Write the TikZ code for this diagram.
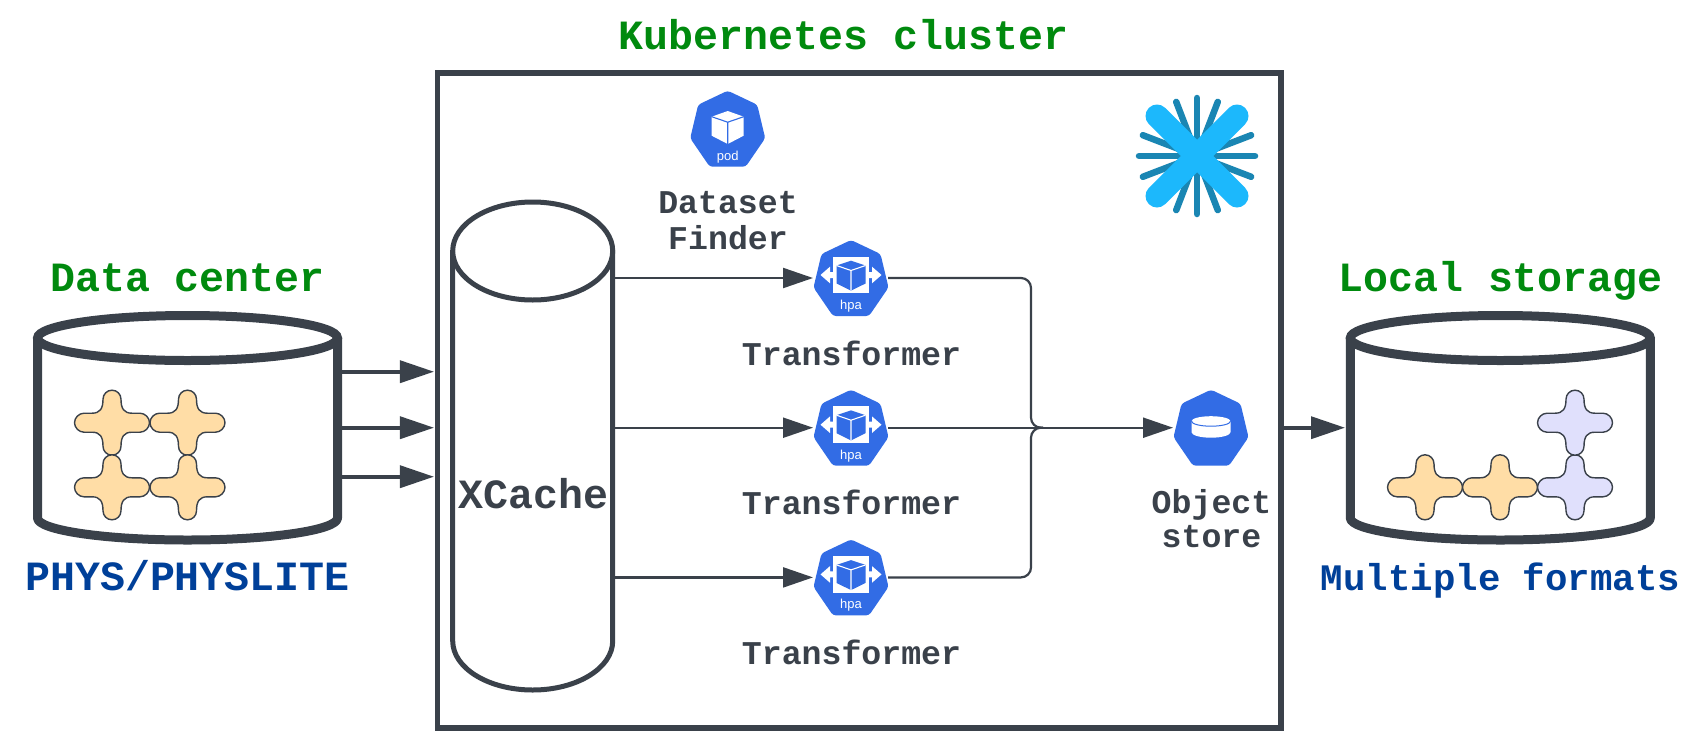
\documentclass[tikz,border=0pt]{standalone}
\usepackage{fontspec}
\setmainfont{Liberation Mono}
\newfontfamily\iconfont{Liberation Sans}
\usetikzlibrary{arrows.meta}
\definecolor{ink}{HTML}{3A414A}
\definecolor{kgreen}{HTML}{008A0E}
\definecolor{kblue}{HTML}{004099}
\definecolor{kube}{HTML}{326CE5}
\definecolor{orangeleaf}{HTML}{FFDDA6}
\definecolor{lavleaf}{HTML}{E0E0FC}
\definecolor{flakelight}{HTML}{1CB8FC}
\definecolor{flakedark}{HTML}{1A86B3}
\tikzset{
  anchorbox/.style={inner sep=0pt,outer sep=0pt,minimum width=#1},
  iconbox/.style={inner sep=0pt,outer sep=0pt,minimum width=74pt,minimum height=74pt},
  bigtext/.style={anchor=base,inner sep=0pt,font=\fontsize{41.6pt}{44pt}\selectfont\bfseries},
  midtext/.style={anchor=base,inner sep=0pt,text=ink,font=\fontsize{33.2pt}{36pt}\selectfont\bfseries},
  thinflow/.style={draw=ink,line width=2.2pt,-{Triangle[length=30pt,width=20pt]}},
  thinbus/.style={draw=ink,line width=2.2pt,rounded corners=10pt},
  thickflow/.style={draw=ink,line width=3.6pt,-{Triangle[length=34pt,width=22pt]}},
  hept/.pic={
    \fill[kube,rounded corners=3pt] (0,-1)--(29.5,13)--(37.5,46.5)--(18,75)--(-18,75)--(-37.5,46.5)--(-29.5,13)--cycle;
  },
  leaf/.pic={
    \path[draw=ink,line width=1.4pt,fill=#1]
      (-9,-23.5) .. controls (-9,-28.5) and (-5,-32.5) .. (0,-32.5)
      .. controls (5,-32.5) and (9,-28.5) .. (9,-23.5)
      .. controls (9,-14) and (12,-9.5) .. (20,-9.5)
      -- (28,-9.5) .. controls (33,-9.5) and (37.5,-5) .. (37.5,0)
      .. controls (37.5,5) and (33,9.5) .. (28,9.5)
      -- (20,9.5) .. controls (12,9.5) and (9,14) .. (9,23.5)
      .. controls (9,28.5) and (5,32.5) .. (0,32.5)
      .. controls (-5,32.5) and (-9,28.5) .. (-9,23.5)
      .. controls (-9,14) and (-12,9.5) .. (-20,9.5)
      -- (-28,9.5) .. controls (-33,9.5) and (-37.5,5) .. (-37.5,0)
      .. controls (-37.5,-5) and (-33,-9.5) .. (-28,-9.5)
      -- (-20,-9.5) .. controls (-12,-9.5) and (-9,-14) .. (-9,-23.5) -- cycle;
  },
  barrel/.pic={
    \draw[ink,line width=9pt,line join=round] (-150,-89) -- (-150,91) arc[start angle=180,end angle=360,x radius=150pt,y radius=22pt] -- (150,-89);
    \draw[ink,line width=9pt,fill=white] (0,-89) ellipse[x radius=150pt,y radius=22.5pt];
  },
  hpaicon/.pic={
    \pic {hept};
    \fill[white] (-18,15.7) rectangle (18,52.3);
    \fill[white] (-30.5,34)--(-21,25.7)--(-21,31)--(-17,31)--(-17,37)--(-21,37)--(-21,42.3)--cycle;
    \fill[white] (30.5,34)--(21,25.7)--(21,31)--(17,31)--(17,37)--(21,37)--(21,42.3)--cycle;
    \fill[kube,line join=round] (0,19.7)--(14.5,24.5)--(14.5,42.5)--(0,49.7)--(-14.5,42.5)--(-14.5,24.5)--cycle;
    \draw[white,line width=1.1pt] (-14.5,24.5)--(0,29.5)--(14.5,24.5) (0,29.5)--(0,49.7);
    \node[text=white,inner sep=0pt,font=\iconfont\fontsize{13pt}{15pt}\selectfont] at (0,65) {hpa};
  },
  podicon/.pic={
    \pic {hept};
    \fill[white] (0,19.3)--(16,25)--(16,44)--(0,52.3)--(-16,44)--(-16,25)--cycle;
    \draw[kube,line width=1.1pt] (-16,25)--(0,30.5)--(16,25) (0,30.5)--(0,52.5);
    \node[text=white,inner sep=0pt,font=\iconfont\fontsize{13pt}{15pt}\selectfont] at (0,65) {pod};
  },
  storeicon/.pic={
    \pic {hept};
    \fill[white] (-19.5,30.5) arc[start angle=180,end angle=0,x radius=19.5pt,y radius=5pt] -- (19.5,41.5) arc[start angle=360,end angle=180,x radius=19.5pt,y radius=5.5pt] -- cycle;
    \draw[kube,line width=1pt] (-19.5,30.5) arc[start angle=180,end angle=360,x radius=19.5pt,y radius=5pt];
  }
}
\begin{document}
\begin{tikzpicture}[x=1pt,y=-1pt]
\useasboundingbox (0,0) rectangle (1688,731);
\fill[white] (0,0) rectangle (1688,731);

% rows
\coordinate (r1) at (0,371.7);
\coordinate (r2) at (0,427.7);
\coordinate (r3) at (0,476.7);

% cluster frame
\node[draw=ink,line width=5.5pt,inner sep=0pt,outer sep=0pt,minimum width=843.5pt,minimum height=655pt] (cluster) at (859.2,400.5) {};

% storage cylinders
\node[anchorbox=300pt,minimum height=225pt] (dc) at (187.5,427) {};
\node[anchorbox=300pt,minimum height=225pt] (ls) at (1500.3,427) {};
\pic at (dc) {barrel};
\pic at (ls) {barrel};

% leaves
\pic at (112,422.7) {leaf=orangeleaf};
\pic at (187.5,422.7) {leaf=orangeleaf};
\pic at (112,487.3) {leaf=orangeleaf};
\pic at (187.5,487.3) {leaf=orangeleaf};
\pic at (1425,487.3) {leaf=orangeleaf};
\pic at (1500,487.3) {leaf=orangeleaf};
\pic at (1575,487.3) {leaf=lavleaf};
\pic at (1575,422.7) {leaf=lavleaf};

% XCache
\node[anchorbox=160pt,minimum height=490pt] (xc) at (532.7,446.5) {};
\draw[ink,line width=5pt,line join=round] (452.7,250) -- (452.7,641) arc[start angle=180,end angle=360,x radius=80pt,y radius=49pt] -- (612.7,250);
\draw[ink,line width=5pt,fill=white] (532.7,251) ellipse[x radius=80pt,y radius=49pt];

% icons
\node[iconbox] (pod) at (727.7,129) {};
\node[iconbox] (t1) at (851,278) {};
\node[iconbox] (t2) at (851,427.7) {};
\node[iconbox] (t3) at (851,577.4) {};
\node[iconbox] (os) at (1211,427.7) {};
\pic at (727.7,91.7) {podicon};
\pic at (851,241) {hpaicon};
\pic at (851,390.7) {hpaicon};
\pic at (851,540.4) {hpaicon};
\pic at (1211,390.7) {storeicon};

% snowflake
\node[inner sep=0pt,outer sep=0pt,minimum size=124pt] (flake) at (1197,156) {};
\foreach \a in {0,21,69,90,111,159,180,201,249,270,291,339}
  \draw[flakedark,line width=6.5pt,line cap=round] (flake.center) -- ++(\a:58pt);
\draw[flakelight,line width=23pt,line cap=round] (1157,116) -- (1237,196) (1157,196) -- (1237,116);

% connectors
\coordinate (bus) at (1031,427.7);
\draw[thickflow,shorten >=3.5pt] (dc.east |- r1) -- (cluster.west |- r1);
\draw[thickflow,shorten >=3.5pt] (dc.east |- r2) -- (cluster.west |- r2);
\draw[thickflow,shorten >=3.5pt] (dc.east |- r3) -- (cluster.west |- r3);
\draw[thinflow,shorten >=1pt] (xc.east |- t1) -- (t1.west);
\draw[thinflow,shorten >=1pt] (xc.east |- t2) -- (t2.west);
\draw[thinflow,shorten >=1pt] (xc.east |- t3) -- (t3.west);
\draw[thinbus] (t1.east) -- (bus |- t1) -- (bus) -- ([xshift=12pt]bus);
\draw[thinbus] (t3.east) -- (bus |- t3) -- (bus) -- ([xshift=12pt]bus);
\draw[thinflow,shorten >=1pt] (t2.east) -- (os.west);
\draw[thickflow,shorten >=5.3pt] (cluster.east |- r2) -- (ls.west |- r2);

% labels
\node[bigtext,text=kgreen] (lk) at (843.5,49.5) {Kubernetes cluster};
\node[bigtext,text=kgreen] (ld) at (187.5,291.5) {Data center};
\node[bigtext,text=kgreen] (ll) at (1500.5,291.5) {Local storage};
\node[bigtext,text=kblue] (lp) at (187.5,590.5) {PHYS/PHYSLITE};
\node[bigtext,text=kblue,font=\fontsize{37.4pt}{40pt}\selectfont\bfseries] (lm) at (1500.5,590.5) {Multiple formats};
\node[bigtext,text=ink] (lx) at (533.5,508.3) {XCache};
\node[midtext] (lf1) at (728,213.3) {Dataset};
\node[midtext] (lf2) at (728,249.3) {Finder};
\node[midtext] (lt1) at (851.5,365) {Transformer};
\node[midtext] (lt2) at (851.5,514.7) {Transformer};
\node[midtext] (lt3) at (851.5,664.4) {Transformer};
\node[midtext] (lo1) at (1211.5,513.5) {Object};
\node[midtext] (lo2) at (1211.5,547) {store};
\end{tikzpicture}
\end{document}
